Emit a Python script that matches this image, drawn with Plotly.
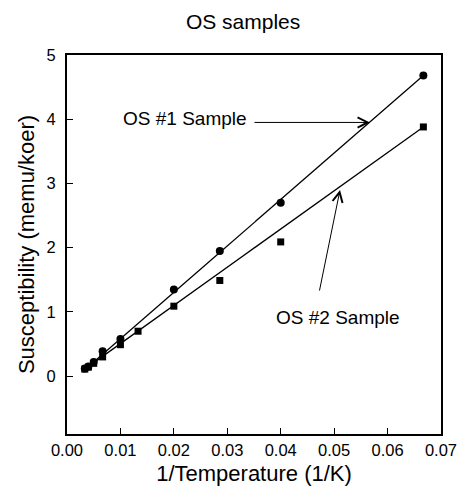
import plotly.graph_objects as go

# Data
x1 = [0.00333, 0.004, 0.005, 0.00667, 0.01, 0.02, 0.0286, 0.04, 0.0667]
y1 = [0.12, 0.15, 0.22, 0.39, 0.58, 1.35, 1.95, 2.70, 4.68]
x2 = [0.00333, 0.004, 0.005, 0.00667, 0.01, 0.0133, 0.02, 0.0286, 0.04, 0.0667]
y2 = [0.11, 0.14, 0.20, 0.30, 0.49, 0.70, 1.09, 1.49, 2.09, 3.88]
# Fitted straight lines as drawn in the reference (end points)
fit1_x = [0.00333, 0.0667]
fit1_y = [0.10, 4.68]
fit2_x = [0.00333, 0.0667]
fit2_y = [0.11, 3.88]
x_ticks = [0.0, 0.01, 0.02, 0.03, 0.04, 0.05, 0.06, 0.07]
x_labels = ["0.00", "0.01", "0.02", "0.03", "0.04", "0.05", "0.06", "0.07"]
y_ticks = [0, 1, 2, 3, 4, 5]

FONT = "Liberation Sans, Arial, sans-serif"

fig = go.Figure()
for fx, fy, x, y, sym, sz in [(fit1_x, fit1_y, x1, y1, "circle", 8),
                              (fit2_x, fit2_y, x2, y2, "square", 7)]:
    fig.add_trace(go.Scatter(x=fx, y=fy, mode="lines",
                             line=dict(color="black", width=1.3),
                             showlegend=False, hoverinfo="skip"))
    fig.add_trace(go.Scatter(x=x, y=y, mode="markers",
                             marker=dict(symbol=sym, size=sz, color="black"),
                             showlegend=False))

fig.add_annotation(x=0.0567, y=3.95, ax=0.0348, ay=3.95, axref="x", ayref="y",
                   xref="x", yref="y", text="", showarrow=True,
                   arrowhead=5, arrowsize=2, arrowwidth=1, arrowcolor="black")
fig.add_annotation(x=0.0220, y=4.01, xref="x", yref="y", text="OS #1 Sample",
                   showarrow=False, font=dict(family=FONT, size=19, color="black"))

fig.add_annotation(x=0.0511, y=2.90, xref="x", yref="y", text="", showarrow=True,
                   ax=0.0472, ay=1.31, axref="x", ayref="y",
                   arrowhead=5, arrowsize=2, arrowwidth=1, arrowcolor="black")
fig.add_annotation(x=0.0507, y=0.92, xref="x", yref="y", text="OS #2 Sample",
                   showarrow=False, font=dict(family=FONT, size=19, color="black"))

fig.update_layout(
    width=461, height=496,
    margin=dict(l=59, r=24, t=47, b=70),
    paper_bgcolor="white", plot_bgcolor="white",
    font=dict(family=FONT, color="black"),
    title=dict(text="OS samples", x=0.51, xanchor="center", y=0.988, yanchor="top",
               pad=dict(t=0, b=0), font=dict(family=FONT, size=21, color="black")),
)
fig.update_xaxes(range=[0, 0.07], tickvals=x_ticks, ticktext=x_labels,
                 ticks="inside", ticklen=6, tickcolor="black", showgrid=False,
                 zeroline=False, showline=True, linecolor="black", linewidth=2,
                 mirror=True, tickfont=dict(size=16.5, family=FONT),
                 title=dict(text="1/Temperature (1/K)", font=dict(size=22, family=FONT), standoff=8))
fig.update_yaxes(range=[-0.9, 5.0], tickvals=y_ticks,
                 ticks="inside", ticklen=6, tickcolor="black", showgrid=False,
                 zeroline=False, showline=True, linecolor="black", linewidth=2,
                 mirror=True, tickfont=dict(size=16.5, family=FONT), ticklabelstandoff=6,
                 title=dict(text="Susceptibility (memu/koer)", font=dict(size=22, family=FONT), standoff=6))

fig.write_html("out.html")
